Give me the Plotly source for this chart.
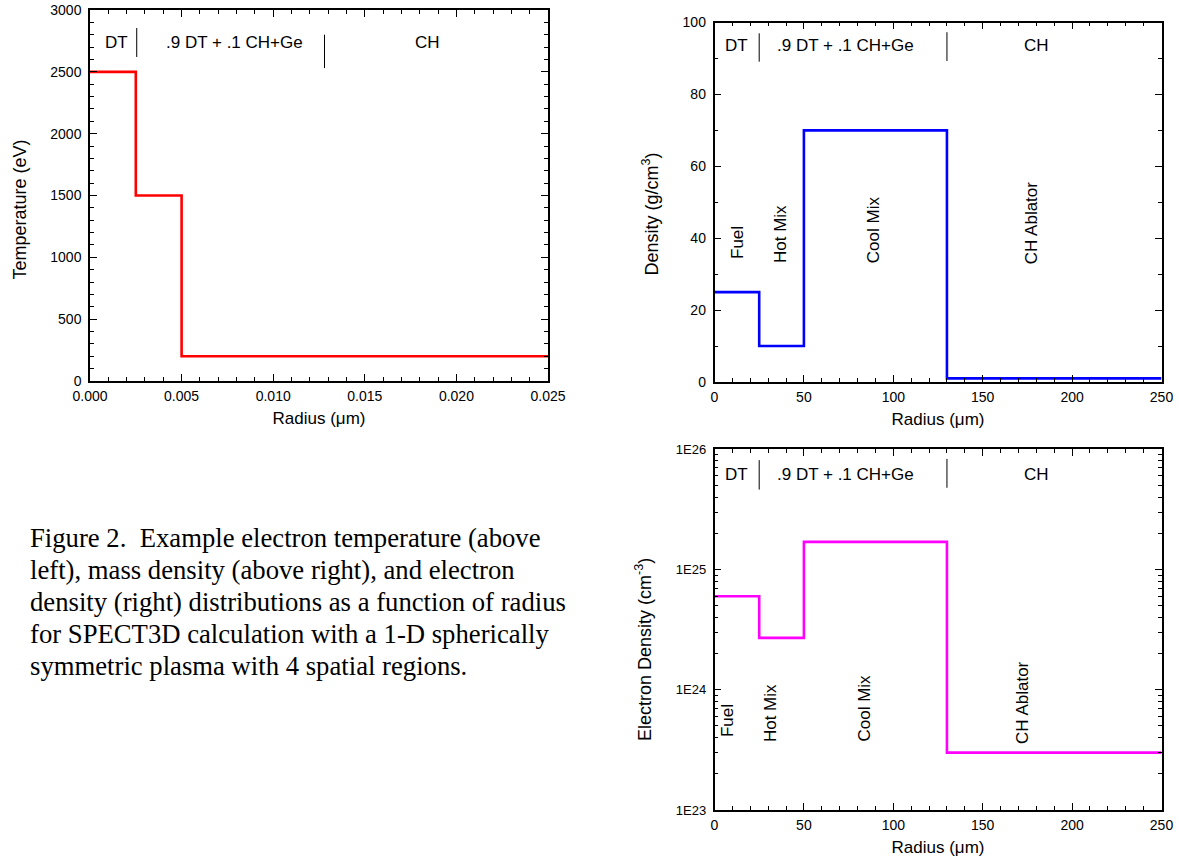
import plotly.graph_objects as go

# ---------------- data ----------------
temp_radius_edges = [0.0, 0.0025, 0.005, 0.025]        # radius (as labelled)
temp_values = [2500, 1500, 200]                          # eV

dens_radius_edges = [0, 25, 50, 130, 250]               # um
mass_density = [25, 10, 70, 1]                          # g/cm3
electron_density = [6.0e24, 2.7e24, 1.7e25, 3.0e23]      # cm-3

material_labels = ["DT", ".9 DT + .1 CH+Ge", "CH"]
zone_labels = ["Fuel", "Hot Mix", "Cool Mix", "CH Ablator"]

temp_ticks = [0, 500, 1000, 1500, 2000, 2500, 3000]
ne_tickvals = [1e23, 1e24, 1e25, 1e26]
ne_ticktext = ["1E23", "1E24", "1E25", "1E26"]

caption_lines = [
    "Figure 2.&nbsp; Example electron temperature (above",
    "left), mass density (above right), and electron",
    "density (right) distributions as a function of radius",
    "for SPECT3D calculation with a 1-D spherically",
    "symmetric plasma with 4 spatial regions.",
]

# ---------------- figure ----------------
W, H = 1179, 859
SANS = "Arial, Liberation Sans, sans-serif"
SERIF = "Times New Roman, Liberation Serif, serif"

def px_x(p):
    return p / W

def px_y(p):
    return 1 - p / H

fig = go.Figure()

def step_y(vals):
    return list(vals) + [vals[-1]]

fig.add_trace(go.Scatter(x=temp_radius_edges, y=step_y(temp_values), mode="lines",
                         line=dict(color="#FF0000", width=2.6, shape="hv"),
                         xaxis="x", yaxis="y", showlegend=False, hoverinfo="skip"))
fig.add_trace(go.Scatter(x=dens_radius_edges, y=step_y(mass_density), mode="lines",
                         line=dict(color="#0000FF", width=2.6, shape="hv"),
                         xaxis="x2", yaxis="y2", showlegend=False, hoverinfo="skip"))
fig.add_trace(go.Scatter(x=dens_radius_edges, y=step_y(electron_density), mode="lines",
                         line=dict(color="#FF00FF", width=2.6, shape="hv"),
                         xaxis="x3", yaxis="y3", showlegend=False, hoverinfo="skip"))

# separator lines between material labels (drawn as small line traces)
def sep(xv, y0, y1, xa, ya):
    fig.add_trace(go.Scatter(x=[xv, xv], y=[y0, y1], mode="lines",
                             line=dict(color="black", width=1),
                             xaxis=xa, yaxis=ya, showlegend=False, hoverinfo="skip"))

sep(0.00255, 2620, 2854, "x", "y")
sep(0.0128, 2530, 2800, "x", "y")
sep(25, 89.1, 97.0, "x2", "y2")
sep(130, 89.3, 97.3, "x2", "y2")
sep(25, 10**25.665, 10**25.91, "x3", "y3")
sep(130, 10**25.68, 10**25.92, "x3", "y3")

axis_common = dict(
    showline=True, linecolor="black", linewidth=1.5, mirror="allticks",
    ticks="inside", ticklen=7, tickwidth=1.2, tickcolor="black",
    showgrid=False, zeroline=False, automargin=False,
    tickfont=dict(family=SANS, size=14, color="black"),
    title_font=dict(family=SANS, size=17, color="black"),
)

fig.update_layout(
    width=W, height=H,
    margin=dict(l=0, r=0, t=0, b=0),
    paper_bgcolor="white", plot_bgcolor="white",
    showlegend=False,
    xaxis=dict(axis_common, domain=[px_x(90), px_x(548)], anchor="y",
               range=[0, 0.025], tickmode="linear", tick0=0, dtick=0.005, tickformat=".3f",
               minor=dict(ticks="inside", ticklen=4, tickcolor="black", dtick=0.001),
               ticklabelstandoff=1,
               title=dict(text="Radius (\u03bcm)", standoff=10)),
    yaxis=dict(axis_common, domain=[px_y(381), px_y(10)], anchor="x",
               range=[0, 3000], tickmode="array", tickvals=temp_ticks,
               minor=dict(ticks="inside", ticklen=4, tickcolor="black", dtick=100),
               ticklabelstandoff=4),
    xaxis2=dict(axis_common, domain=[px_x(714.5), px_x(1161.5)], anchor="y2",
                range=[0, 250], tickmode="linear", tick0=0, dtick=50,
                minor=dict(ticks="inside", ticklen=4, tickcolor="black", dtick=10),
                ticklabelstandoff=1,
                title=dict(text="Radius (\u03bcm)", standoff=10)),
    yaxis2=dict(axis_common, domain=[px_y(382), px_y(22.5)], anchor="x2",
                range=[0, 100], tickmode="linear", tick0=0, dtick=20,
                minor=dict(ticks="inside", ticklen=4, tickcolor="black", dtick=10),
                ticklabelstandoff=4),
    xaxis3=dict(axis_common, domain=[px_x(714.5), px_x(1161.5)], anchor="y3",
                range=[0, 250], tickmode="linear", tick0=0, dtick=50,
                minor=dict(ticks="inside", ticklen=4, tickcolor="black", dtick=10),
                ticklabelstandoff=1,
                title=dict(text="Radius (\u03bcm)", standoff=10)),
    yaxis3=dict(axis_common, domain=[px_y(810), px_y(449.3)], anchor="x3",
                type="log", range=[23, 26], tickmode="array",
                tickvals=ne_tickvals, ticktext=ne_ticktext,
                tickfont=dict(family=SANS, size=13, color="black"),
                minor=dict(ticks="inside", ticklen=4, tickcolor="black", dtick="D1"),
                ticklabelstandoff=4),
)

ann = []
# y-axis titles (rotated text placed beside each axis)
ytitle_font = dict(family=SANS, size=18, color="black")
for txt, xp, yp in [("Temperature (eV)", 19.5, 210),
                    ("Density (g/cm<sup>3</sup>)", 651.5, 214),
                    ("Electron Density (cm<sup>-3</sup>)", 643, 650)]:
    ann.append(dict(text=txt, x=px_x(xp), y=px_y(yp), xref="paper", yref="paper",
                    showarrow=False, textangle=-90, xanchor="center", yanchor="middle",
                    font=ytitle_font))

lab_font = dict(family=SANS, size=17, color="black")
# top-left material labels
for txt, xv in zip(material_labels, [0.00146, 0.0079, 0.0184]):
    ann.append(dict(text=txt, x=xv, y=2741, xref="x", yref="y", showarrow=False,
                    xanchor="center", yanchor="middle", font=lab_font))
# top-right
for txt, xv in zip(material_labels, [12.4, 73.5, 180.2]):
    ann.append(dict(text=txt, x=xv, y=93.7, xref="x2", yref="y2", showarrow=False,
                    xanchor="center", yanchor="middle", font=lab_font))
# bottom-right (log axis: annotation y in log10 units)
for txt, xv in zip(material_labels, [12.4, 73.5, 180.2]):
    ann.append(dict(text=txt, x=xv, y=25.79, xref="x3", yref="y3", showarrow=False,
                    xanchor="center", yanchor="middle", font=lab_font))
# zone labels (vertical)
for txt, xv, yv in zip(zone_labels, [12.5, 36.9, 89.0, 177.3], [38.9, 41.3, 42.4, 44.3]):
    ann.append(dict(text=txt, x=xv, y=yv, xref="x2", yref="y2", showarrow=False,
                    textangle=-90, xanchor="center", yanchor="middle", font=lab_font))
for txt, xv, yv in zip(zone_labels, [7.0, 31.3, 83.7, 172.3], [23.74, 23.81, 23.845, 23.895]):
    ann.append(dict(text=txt, x=xv, y=yv, xref="x3", yref="y3", showarrow=False,
                    textangle=-90, xanchor="center", yanchor="middle", font=lab_font))
# caption
for i, line in enumerate(caption_lines):
    ann.append(dict(text=line, x=px_x(28), y=px_y(538 + 32 * i), xref="paper", yref="paper",
                    showarrow=False, xanchor="left", yanchor="middle",
                    font=dict(family=SERIF, size=26.7, color="black")))

fig.update_layout(annotations=ann)

fig.write_html("out.html")
